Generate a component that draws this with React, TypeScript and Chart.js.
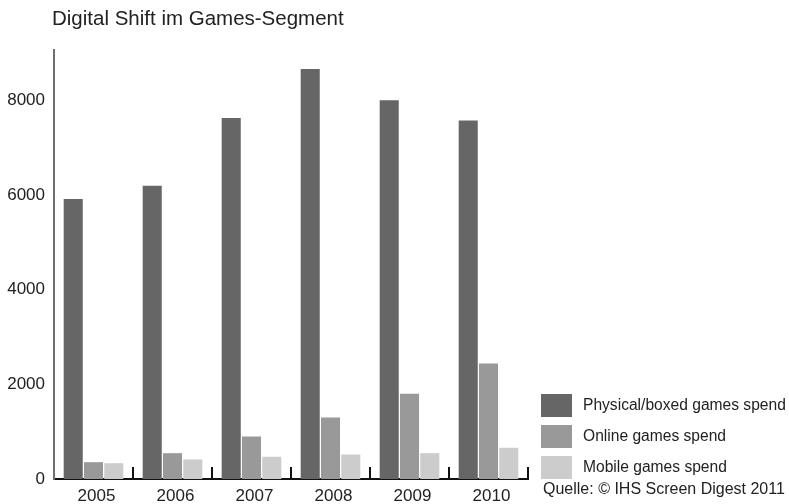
import React, { useEffect, useRef } from "react";
import { Chart, registerables } from "chart.js";

Chart.register(...registerables);

const categories = ["2005", "2006", "2007", "2008", "2009", "2010"];
const physicalSpend = [5920, 6200, 7630, 8670, 8010, 7580];
const onlineSpend = [356, 546, 899, 1301, 1803, 2444];
const mobileSpend = [334, 413, 470, 518, 546, 660];
const seriesLabels = ["Physical/boxed games spend", "Online games spend", "Mobile games spend"];
const seriesColors = ["#666666", "#999999", "#cccccc"];
const yTicks = [0, 2000, 4000, 6000, 8000];
const titleText = "Digital Shift im Games-Segment";
const sourceText = "Quelle: \u00A9 IHS Screen Digest 2011";

const FONT = "'Liberation Sans', Arial, Helvetica, sans-serif";

const extrasPlugin = {
  id: "extras",
  afterDraw(chart: any) {
    const ctx = chart.ctx;
    const x = chart.scales.x;
    ctx.save();
    // title
    ctx.fillStyle = "#222";
    ctx.font = `20.5px ${FONT}`;
    ctx.textBaseline = "middle";
    ctx.textAlign = "left";
    ctx.fillText(titleText, 52, 19);

    // tick marks at category boundaries, pointing up
    const half = (x.getPixelForValue(1) - x.getPixelForValue(0)) / 2;
    ctx.strokeStyle = "#111";
    ctx.lineWidth = 2;
    const base = chart.chartArea.bottom;
    for (let i = 0; i < categories.length; i++) {
      const px = Math.round(x.getPixelForValue(i) + half);
      ctx.beginPath();
      ctx.moveTo(px, base);
      ctx.lineTo(px, base - 12);
      ctx.stroke();
    }

    // legend
    const boxX = 541;
    const boxW = 31;
    const boxH = 23;
    const tops = [394, 425, 456];
    ctx.font = `15.6px ${FONT}`;
    ctx.textBaseline = "middle";
    chart.data.datasets.forEach((ds: any, i: number) => {
      ctx.fillStyle = ds.backgroundColor;
      ctx.fillRect(boxX, tops[i], boxW, boxH);
      ctx.fillStyle = "#222";
      ctx.fillText(ds.label, 583, tops[i] + boxH / 2);
    });
    ctx.font = `16px ${FONT}`;
    ctx.fillText(sourceText, 543, 490);
    ctx.restore();
  },
};

export default function App() {
  const ref = useRef<HTMLCanvasElement>(null);
  useEffect(() => {
    if (!ref.current) return;
    const chart = new Chart(ref.current, {
      type: "bar",
      data: {
        labels: categories,
        datasets: [
          { label: seriesLabels[0], data: physicalSpend, backgroundColor: seriesColors[0] },
          { label: seriesLabels[1], data: onlineSpend, backgroundColor: seriesColors[1] },
          { label: seriesLabels[2], data: mobileSpend, backgroundColor: seriesColors[2] },
        ],
      },
      options: {
        animation: false,
        responsive: false,
        maintainAspectRatio: false,
        layout: { padding: { top: 50, right: 261, left: 0, bottom: 0 } },
        plugins: { legend: { display: false }, title: { display: false }, tooltip: { enabled: false } },
        datasets: { bar: { categoryPercentage: 0.77, barPercentage: 0.94 } },
        scales: {
          x: {
            grid: { display: false, drawTicks: false },
            border: { display: true, color: "#111", width: 2 },
            ticks: { color: "#222", font: { family: FONT, size: 17 }, padding: 7, maxRotation: 0, labelOffset: 3 },
            afterFit: (s: any) => { s.height = 25; },
          },
          y: {
            min: 0,
            max: 9070,
            afterBuildTicks: (s: any) => { s.ticks = yTicks.map((v) => ({ value: v })); },
            grid: { display: false, drawTicks: false },
            border: { display: true, color: "#707070", width: 2 },
            ticks: { color: "#222", font: { family: FONT, size: 17 }, padding: 9, callback: (v: any) => String(v) },
            afterFit: (s: any) => { s.width = 54; },
          },
        },
      },
      plugins: [extrasPlugin],
    });
    return () => chart.destroy();
  }, []);
  return (
    <div style={{ position: "absolute", left: 0, top: 0, width: 789, height: 504, background: "#fff" }}>
      <canvas ref={ref} width={789} height={504} style={{ display: "block", width: 789, height: 504 }} />
    </div>
  );
}
